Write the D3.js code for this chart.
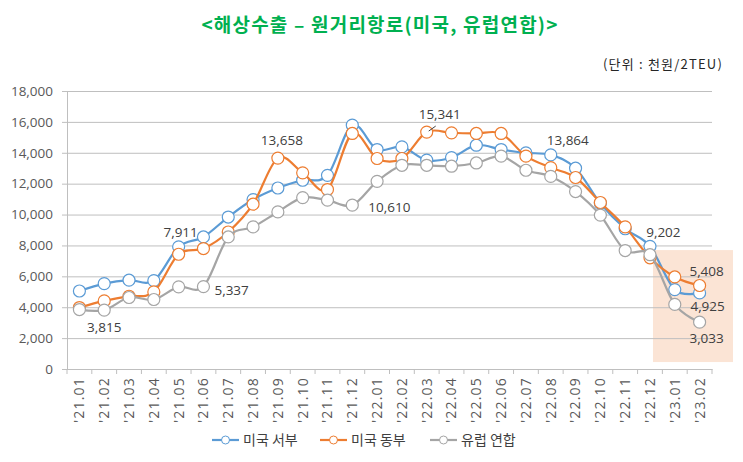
<!DOCTYPE html>
<html>
<head>
<meta charset="utf-8">
<script src="https://cdn.jsdelivr.net/npm/d3@7"></script>
<style>
  body { margin: 0; background: #fff; }
  text { font-family: "Noto Sans CJK KR", "Noto Sans", sans-serif; }
</style>
</head>
<body>
<script>
const months = ["'21.01","'21.02","'21.03","'21.04","'21.05","'21.06","'21.07","'21.08","'21.09","'21.10","'21.11","'21.12",
                "'22.01","'22.02","'22.03","'22.04","'22.05","'22.06","'22.07","'22.08","'22.09","'22.10","'22.11","'22.12",
                "'23.01","'23.02"];
const usWest = [5050, 5530, 5750, 5720, 7911, 8550, 9840, 10970, 11720, 12220, 12540, 15790, 14210, 14380, 13520, 13690,
                14490, 14210, 13990, 13864, 13000, 10730, 9080, 7940, 5140, 4925];
const usEast = [3980, 4410, 4710, 4990, 7430, 7800, 8870, 10670, 13658, 12700, 11620, 15250, 13630, 13630, 15341, 15290,
                15250, 15250, 13780, 13040, 12400, 10780, 9202, 7200, 5960, 5408];
const eu = [3850, 3815, 4630, 4500, 5320, 5337, 8550, 9200, 10170, 11100, 10930, 10610, 12150, 13190, 13190, 13130,
            13340, 13780, 12870, 12470, 11490, 9960, 7670, 7400, 4180, 3033];
const seriesNames = ["미국 서부", "미국 동부", "유럽 연합"];
const yTicks = [0, 2000, 4000, 6000, 8000, 10000, 12000, 14000, 16000, 18000];

const WIDTH = 743;
const HEIGHT = 462;
const colors = ["#5B9BD5", "#ED7D31", "#A5A5A5"];
const allSeries = [usWest, usEast, eu];
const NUM_FONT = "'Open Sans', 'Noto Sans CJK KR', sans-serif";

// which points carry a value label: [series, index, dx, dy, anchor]
const labelled = [
  [2, 1, 0, 22, "middle"],
  [0, 4, 2, -10, "middle"],
  [2, 5, 11, 8, "start"],
  [1, 8, 4, -13, "middle"],
  [2, 11, 16, 7, "start"],
  [1, 14, 13, -13, "middle"],
  [0, 19, 17, -10, "middle"],
  [1, 22, 21, 10, "start"],
  [1, 25, 7, -9, "middle"],
  [0, 25, 8, 18, "middle"],
  [2, 25, 7, 21, "middle"]
];

const svg = d3.select("body").append("svg")
  .attr("width", WIDTH)
  .attr("height", HEIGHT);

const xScale = d3.scaleBand().domain(months).range([67, 712]);
const yScale = d3.scaleLinear().domain([0, 18000]).range([369, 91]);
const cx = d => xScale(d) + xScale.bandwidth() / 2;

svg.append("text")
  .attr("x", 380).attr("y", 32)
  .attr("text-anchor", "middle")
  .attr("font-size", 19).attr("font-weight", "bold")
  .attr("letter-spacing", 1.2)
  .attr("fill", "#00B050")
  .text("<해상수출 – 원거리항로(미국, 유럽연합)>");

svg.append("text")
  .attr("x", 723).attr("y", 69)
  .attr("text-anchor", "end")
  .attr("font-size", 13).attr("fill", "#262626")
  .attr("letter-spacing", 1.2)
  .text("(단위 : 천원/2TEU)");

// highlight box for the latest months
svg.append("rect")
  .attr("x", cx("'22.12") + 3)
  .attr("y", yScale(7700))
  .attr("width", 712 + 21 - cx("'22.12") - 3)
  .attr("height", yScale(450) - yScale(7700))
  .attr("fill", "#FBE4D5");

const yAxis = d3.axisLeft(yScale)
  .tickValues(yTicks)
  .tickSize(-(712 - 67))
  .tickPadding(14)
  .tickFormat(d3.format(","));
const yg = svg.append("g")
  .attr("transform", "translate(67,0)")
  .call(yAxis);
yg.select(".domain").attr("stroke", "#BFBFBF");
yg.selectAll(".tick line").attr("stroke", "#BFBFBF").attr("x1", -5);
yg.selectAll(".tick text").attr("font-size", 13.5).attr("fill", "#595959")
  .style("font-family", NUM_FONT);

const xAxis = d3.axisBottom(xScale).tickSize(0).tickPadding(0);
const xg = svg.append("g")
  .attr("transform", "translate(0,369)")
  .call(xAxis);
xg.select(".domain").attr("stroke", "#BFBFBF");
xg.selectAll(".tick text")
  .attr("font-size", 14).attr("fill", "#595959")
  .attr("letter-spacing", 1.2)
  .style("font-family", NUM_FONT)
  .attr("transform", "rotate(-90)")
  .attr("text-anchor", "end")
  .attr("x", -8).attr("y", 0).attr("dy", "0.35em");
xg.selectAll(".boundary")
  .data(months.concat(["end"]))
  .enter().append("line")
  .attr("x1", (d, i) => 67 + i * xScale.step())
  .attr("x2", (d, i) => 67 + i * xScale.step())
  .attr("y1", 0).attr("y2", 5)
  .attr("stroke", "#BFBFBF");

const line = d3.line()
  .x((d, i) => cx(months[i]))
  .y(d => yScale(d))
  .curve(d3.curveCatmullRom.alpha(0));

allSeries.forEach((s, k) => {
  svg.append("path")
    .datum(s)
    .attr("d", line)
    .attr("fill", "none")
    .attr("stroke", colors[k])
    .attr("stroke-width", 2.2);
  svg.selectAll(".m" + k)
    .data(s)
    .enter().append("circle")
    .attr("class", "m" + k)
    .attr("cx", (d, i) => cx(months[i]))
    .attr("cy", d => yScale(d))
    .attr("r", 6)
    .attr("fill", "#fff")
    .attr("stroke", colors[k])
    .attr("stroke-width", 1.2);
});

// leader line for the 15,341 label
svg.append("line")
  .attr("x1", cx("'22.03") + 2).attr("y1", yScale(usEast[14]) - 1)
  .attr("x2", cx("'22.03") + 9).attr("y2", yScale(usEast[14]) - 6)
  .attr("stroke", "#404040");

svg.selectAll(".lbl")
  .data(labelled)
  .enter().append("text")
  .attr("class", "lbl")
  .attr("x", d => cx(months[d[1]]) + d[2])
  .attr("y", d => yScale(allSeries[d[0]][d[1]]) + d[3])
  .attr("text-anchor", d => d[4])
  .attr("font-size", 13.5).attr("fill", "#404040")
  .style("font-family", NUM_FONT)
  .text(d => d3.format(",")(allSeries[d[0]][d[1]]));

// legend
const legendX = [212, 320, 430];
const legend = svg.selectAll(".leg")
  .data(seriesNames)
  .enter().append("g")
  .attr("transform", (d, i) => "translate(" + legendX[i] + ",440)");
legend.append("line")
  .attr("x1", 0).attr("x2", 27).attr("y1", 0).attr("y2", 0)
  .attr("stroke", (d, i) => colors[i]).attr("stroke-width", 2.2);
legend.append("circle")
  .attr("cx", 13.5).attr("cy", 0).attr("r", 4)
  .attr("fill", "#fff").attr("stroke", (d, i) => colors[i]).attr("stroke-width", 1);
legend.append("text")
  .attr("x", 31).attr("y", 0).attr("dy", "0.35em")
  .attr("font-size", 14).attr("fill", "#404040")
  .text(d => d);
</script>
</body>
</html>
